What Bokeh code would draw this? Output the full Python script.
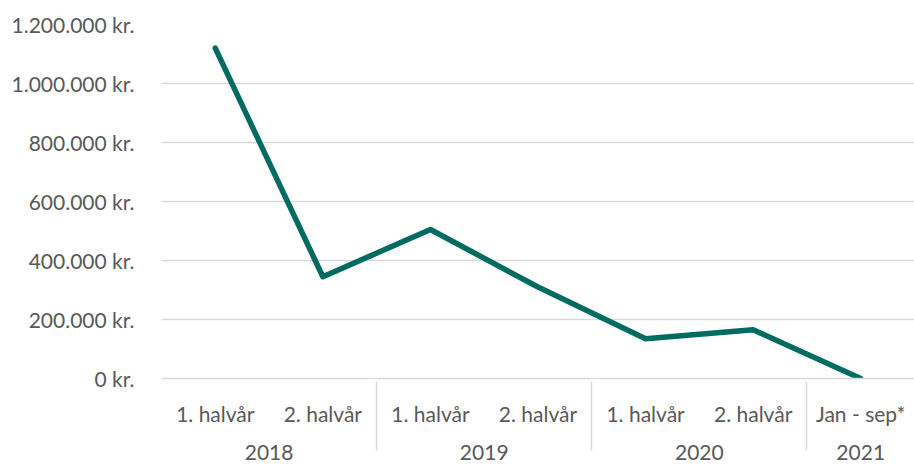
from bokeh.plotting import figure
from bokeh.models import FactorRange, FixedTicker, Range1d
from bokeh.embed import file_html
from bokeh.resources import INLINE

years = ["2018", "2018", "2019", "2019", "2020", "2020", "2021"]
periods = ["1. halvår", "2. halvår", "1. halvår", "2. halvår", "1. halvår", "2. halvår", "Jan - sep*"]
values = [1120000, 345000, 505000, 310000, 135000, 165000, 0]
y_ticks = [0, 200000, 400000, 600000, 800000, 1000000, 1200000]
y_tick_labels = ["0 kr.", "200.000 kr.", "400.000 kr.", "600.000 kr.", "800.000 kr.", "1.000.000 kr.", "1.200.000 kr."]

factors = list(zip(years, periods))

FONT = "Lato"
GREY = "#595959"
GRID = "#d9d9d9"

p = figure(
    width=914, height=466,
    x_range=FactorRange(*factors, range_padding=0, group_padding=0, factor_padding=0),
    y_range=Range1d(0, 1200000),
    output_backend="svg", toolbar_location=None,
    min_border_left=161, min_border_top=24, min_border_right=0, min_border_bottom=88,
)
p.outline_line_color = None

p.line(x=factors, y=values, line_color="#006B61", line_width=5.5, line_join="round", line_cap="round")

p.yaxis.ticker = FixedTicker(ticks=y_ticks)
p.yaxis.major_label_overrides = {t: l for t, l in zip(y_ticks, y_tick_labels)}
p.yaxis.axis_line_color = None
p.yaxis.major_tick_line_color = None
p.yaxis.minor_tick_line_color = None
p.yaxis.major_label_standoff = 21
p.yaxis.major_label_text_font = FONT
p.yaxis.major_label_text_font_size = "21px"
p.yaxis.major_label_text_color = GREY

p.ygrid.grid_line_color = GRID
p.ygrid.grid_line_width = 1.5
p.xgrid.grid_line_color = None

xa = p.xaxis[0]
xa.axis_line_color = GRID
xa.axis_line_width = 1.5
xa.major_tick_line_color = None
xa.minor_tick_line_color = None
xa.major_label_standoff = 16
xa.major_label_text_font = FONT
xa.major_label_text_font_size = "21px"
xa.major_label_text_color = GREY
xa.group_text_font = FONT
xa.group_text_font_size = "21px"
xa.group_text_color = GREY
xa.group_text_font_style = "normal"
xa.separator_line_color = GRID
xa.separator_line_width = 1.5

open("out.html", "w").write(file_html(p, INLINE))
